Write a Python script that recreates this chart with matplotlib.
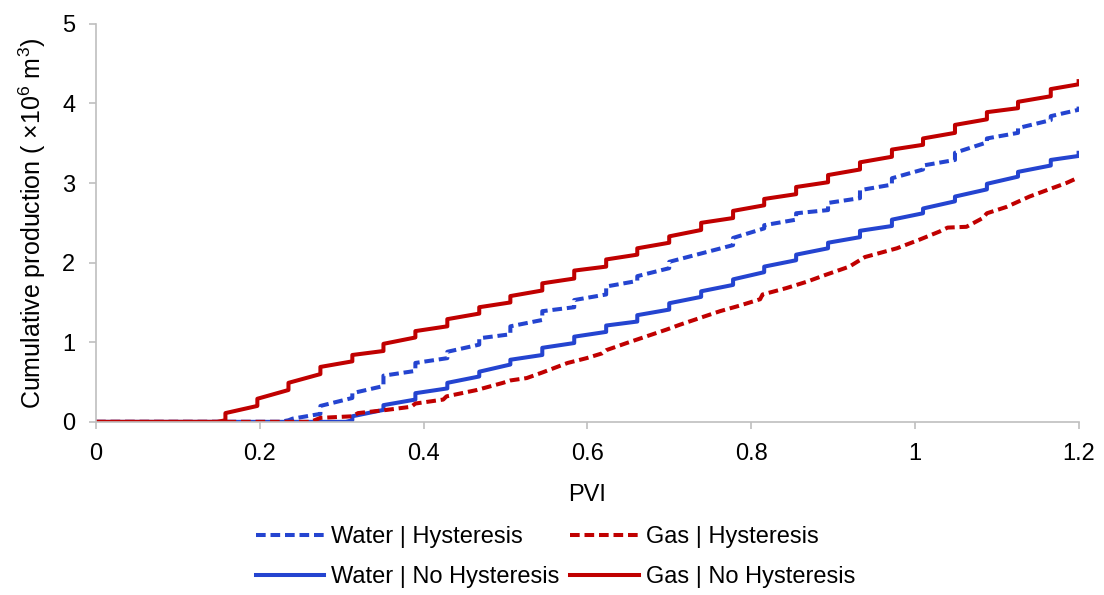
import matplotlib
matplotlib.use("Agg")
import matplotlib.pyplot as plt

plt.rcParams['font.family'] = ['Liberation Sans', 'DejaVu Sans']
plt.rcParams['mathtext.fontset'] = 'custom'
plt.rcParams['mathtext.rm'] = 'Liberation Sans'
plt.rcParams['mathtext.it'] = 'Liberation Sans'

# Water | Hysteresis (blue dashed)
water_h_x = [0, 0.225, 0.235, 0.240, 0.274, 0.274, 0.313, 0.313, 0.351, 0.351, 0.390, 0.390,
             0.429, 0.429, 0.468, 0.468, 0.506, 0.506, 0.545, 0.545, 0.584, 0.584, 0.623, 0.623,
             0.661, 0.661, 0.700, 0.700, 0.778, 0.778, 0.816, 0.816, 0.855, 0.855, 0.894, 0.894,
             0.933, 0.933, 0.972, 0.972, 1.010, 1.010, 1.049, 1.049, 1.088, 1.088, 1.126, 1.126,
             1.166, 1.166, 1.2, 1.2]
water_h_y = [0, 0, 0.02, 0.04, 0.10, 0.20, 0.30, 0.36, 0.45, 0.58, 0.64, 0.74,
             0.80, 0.88, 0.97, 1.05, 1.10, 1.20, 1.28, 1.39, 1.44, 1.53, 1.60, 1.70,
             1.77, 1.83, 1.93, 2.01, 2.22, 2.31, 2.43, 2.47, 2.54, 2.62, 2.66, 2.75,
             2.81, 2.91, 2.98, 3.06, 3.17, 3.22, 3.29, 3.38, 3.51, 3.56, 3.63, 3.69,
             3.79, 3.84, 3.92, 3.96]

# Water | No Hysteresis (blue solid)
water_nh_x = [0, 0.305, 0.313, 0.313, 0.351, 0.351, 0.390, 0.390, 0.429, 0.429, 0.468, 0.468,
              0.506, 0.506, 0.545, 0.545, 0.584, 0.584, 0.623, 0.623, 0.661, 0.661, 0.700, 0.700,
              0.739, 0.739, 0.778, 0.778, 0.816, 0.816, 0.855, 0.855, 0.894, 0.894, 0.933, 0.933,
              0.972, 0.972, 1.010, 1.010, 1.049, 1.049, 1.088, 1.088, 1.126, 1.126, 1.166, 1.166,
              1.2, 1.2]
water_nh_y = [0, 0, 0.02, 0.07, 0.15, 0.21, 0.28, 0.36, 0.42, 0.49, 0.57, 0.63,
              0.72, 0.78, 0.84, 0.93, 0.99, 1.07, 1.13, 1.21, 1.26, 1.34, 1.41, 1.49,
              1.57, 1.64, 1.72, 1.79, 1.88, 1.95, 2.03, 2.10, 2.18, 2.25, 2.32, 2.40,
              2.46, 2.54, 2.62, 2.68, 2.77, 2.83, 2.92, 2.99, 3.08, 3.14, 3.22, 3.29,
              3.34, 3.38]

# Gas | Hysteresis (red dashed)
gas_h_x = [0, 0.262, 0.274, 0.313, 0.320, 0.355, 0.385, 0.390, 0.424, 0.428, 0.465, 0.497,
           0.506, 0.526, 0.545, 0.576, 0.599, 0.618, 0.623, 0.648, 0.697, 0.713, 0.762, 0.786,
           0.811, 0.814, 0.843, 0.868, 0.892, 0.920, 0.939, 0.978, 1.006, 1.030, 1.040, 1.063,
           1.083, 1.088, 1.112, 1.140, 1.161, 1.185, 1.2]
gas_h_y = [0, 0, 0.05, 0.07, 0.11, 0.15, 0.19, 0.23, 0.28, 0.32, 0.40, 0.49,
           0.52, 0.55, 0.62, 0.74, 0.80, 0.86, 0.90, 0.99, 1.16, 1.22, 1.39, 1.46,
           1.54, 1.60, 1.68, 1.76, 1.85, 1.95, 2.07, 2.18, 2.29, 2.39, 2.44, 2.45,
           2.56, 2.62, 2.70, 2.83, 2.91, 3.00, 3.07]

# Gas | No Hysteresis (red solid)
gas_nh_x = [0, 0.148, 0.158, 0.158, 0.197, 0.197, 0.235, 0.235, 0.274, 0.274, 0.313, 0.313,
            0.351, 0.351, 0.390, 0.390, 0.429, 0.429, 0.468, 0.468, 0.506, 0.506, 0.545, 0.545,
            0.584, 0.584, 0.623, 0.623, 0.661, 0.661, 0.700, 0.700, 0.739, 0.739, 0.778, 0.778,
            0.816, 0.816, 0.855, 0.855, 0.894, 0.894, 0.933, 0.933, 0.972, 0.972, 1.010, 1.010,
            1.049, 1.049, 1.088, 1.088, 1.126, 1.126, 1.166, 1.166, 1.2, 1.2]
gas_nh_y = [0, 0, 0.02, 0.11, 0.20, 0.29, 0.40, 0.49, 0.60, 0.69, 0.76, 0.84,
            0.89, 0.98, 1.06, 1.14, 1.20, 1.29, 1.36, 1.44, 1.50, 1.58, 1.65, 1.74,
            1.80, 1.90, 1.95, 2.04, 2.10, 2.18, 2.25, 2.33, 2.41, 2.50, 2.56, 2.65,
            2.72, 2.80, 2.86, 2.95, 3.01, 3.10, 3.17, 3.26, 3.33, 3.42, 3.48, 3.56,
            3.63, 3.73, 3.80, 3.89, 3.94, 4.02, 4.09, 4.18, 4.24, 4.28]

x_ticks = [0, 0.2, 0.4, 0.6, 0.8, 1.0, 1.2]
x_tick_labels = ['0', '0.2', '0.4', '0.6', '0.8', '1', '1.2']
y_ticks = [0, 1, 2, 3, 4, 5]

blue = '#2444D0'
red = '#C00000'
dash = (0, (2.4, 1.2))
lw = 2.9

fig = plt.figure(figsize=(11.04, 5.95), dpi=100)
ax = fig.add_axes([0.087, 0.291, 0.890, 0.669])

ax.plot(water_h_x, water_h_y, color=blue, lw=lw, linestyle=dash, label='Water | Hysteresis')
ax.plot(water_nh_x, water_nh_y, color=blue, lw=lw, label='Water | No Hysteresis')
ax.plot(gas_h_x, gas_h_y, color=red, lw=lw, linestyle=dash, label='Gas | Hysteresis')
ax.plot(gas_nh_x, gas_nh_y, color=red, lw=lw, label='Gas | No Hysteresis')

ax.set_xlim(0, 1.2)
ax.set_ylim(0, 5)
ax.set_xticks(x_ticks)
ax.set_xticklabels(x_tick_labels)
ax.set_yticks(y_ticks)
ax.tick_params(labelsize=17, colors='#BFBFBF', labelcolor='black', length=5, width=1.2)
ax.tick_params(axis='x', pad=10)
ax.tick_params(axis='y', pad=10)
for s in ['top', 'right']:
    ax.spines[s].set_visible(False)
for s in ['left', 'bottom']:
    ax.spines[s].set_color('#BFBFBF')
    ax.spines[s].set_linewidth(1.2)

ax.set_xlabel('PVI', fontsize=17, labelpad=14)
ax.set_ylabel('Cumulative production ( ×10$^{6}$ m$^{3}$)', fontsize=18, labelpad=10)

fig.legend(loc='center', bbox_to_anchor=(0.503, 0.064), ncol=2, frameon=False, fontsize=17,
           handlelength=2.9, handletextpad=0.3, columnspacing=0.45, labelspacing=0.75)

fig.savefig('out.png', dpi=100)
